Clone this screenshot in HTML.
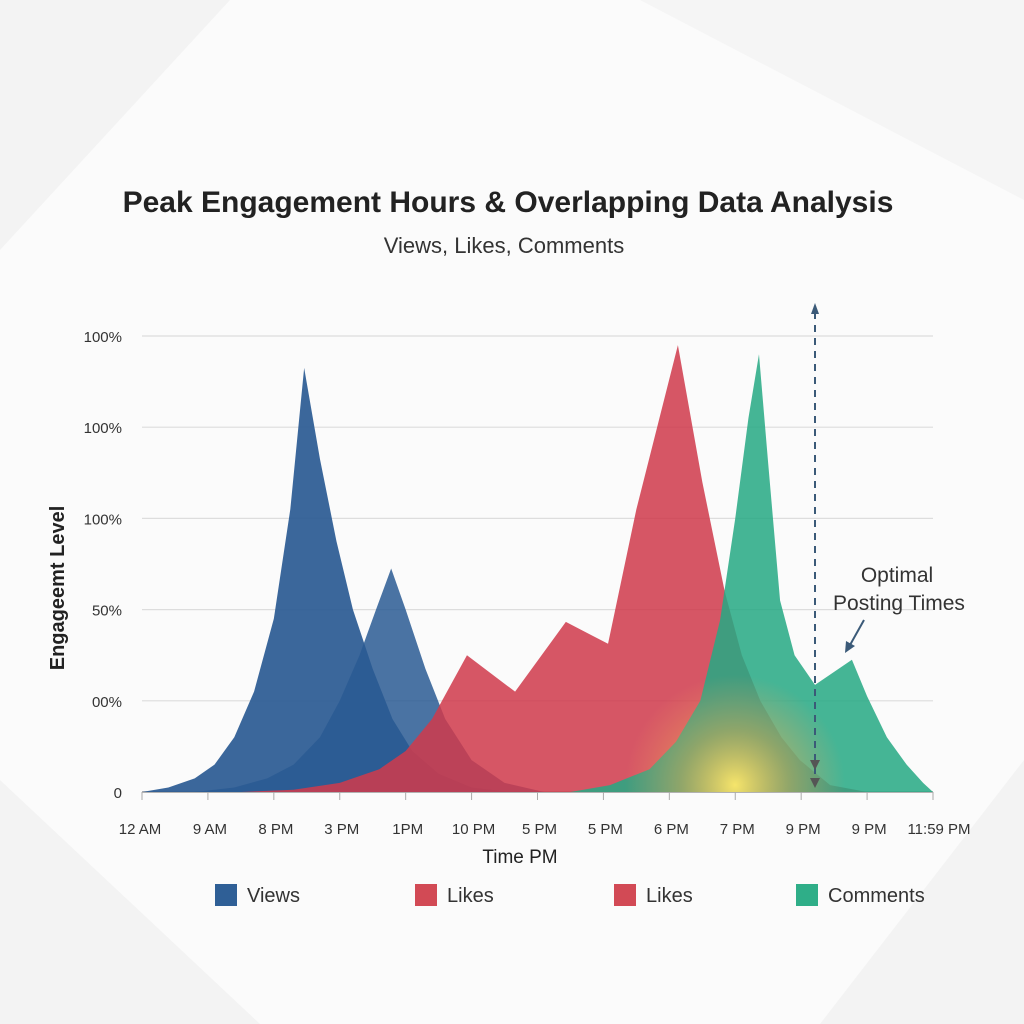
<!DOCTYPE html>
<html><head><meta charset="utf-8">
<style>
html,body{margin:0;padding:0;width:1024px;height:1024px;overflow:hidden;background:#fafafa;font-family:"Liberation Sans",sans-serif}
</style></head>
<body>
<svg id="chart" width="1024" height="1024" viewBox="0 0 1024 1024" xmlns="http://www.w3.org/2000/svg">
<defs>
<radialGradient id="glow" cx="735" cy="785" r="110" gradientUnits="userSpaceOnUse">
<stop offset="0" stop-color="#ffe96a" stop-opacity="0.95"/>
<stop offset="0.5" stop-color="#f0b050" stop-opacity="0.45"/>
<stop offset="1" stop-color="#f0a060" stop-opacity="0"/>
</radialGradient>
</defs>
<g>
<rect width="1024" height="1024" fill="#fbfbfb"/>
<polygon points="0,0 230,0 0,250" fill="#f3f3f3"/>
<polygon points="640,0 1024,0 1024,200" fill="#f5f5f5"/>
<polygon points="0,780 0,1024 260,1024" fill="#f3f3f3"/>
<polygon points="1024,760 1024,1024 820,1024" fill="#f3f3f3"/>
</g>
<text x="508" y="212" text-anchor="middle" font-size="30" font-weight="bold" fill="#222">Peak Engagement Hours &amp; Overlapping Data Analysis</text>
<text x="504" y="253" text-anchor="middle" font-size="22" fill="#333">Views, Likes, Comments</text>
<g id="grid"></g>
<g id="series"></g>
<g id="axes"></g>
<text transform="translate(64,588) rotate(-90)" text-anchor="middle" font-size="20" font-weight="bold" fill="#222">Engageemt Level</text>
<text x="520" y="863" text-anchor="middle" font-size="19" fill="#222">Time PM</text>
<g>
<line x1="815" y1="312" x2="815" y2="780" stroke="#3b5a78" stroke-width="2" stroke-dasharray="7,6"/>
<polygon points="811,314 819,314 815,303" fill="#3b5a78"/>
<polygon points="810,760 820,760 815,770" fill="#555"/>
<polygon points="810,778 820,778 815,788" fill="#555"/>
<text x="897" y="582" text-anchor="middle" font-size="21" fill="#333">Optimal</text>
<text x="899" y="610" text-anchor="middle" font-size="21" fill="#333">Posting Times</text>
<line x1="864" y1="620" x2="850" y2="645" stroke="#3b5a78" stroke-width="2"/>
<polygon points="845,653 846,641 855,646" fill="#3b5a78"/>
</g>
<g font-size="20" fill="#333">
<g><rect x="215" y="884" width="22" height="22" fill="#2f5f96"/><text x="247" y="902">Views</text></g>
<g><rect x="415" y="884" width="22" height="22" fill="#d24a55"/><text x="447" y="902">Likes</text></g>
<g><rect x="614" y="884" width="22" height="22" fill="#d24a55"/><text x="646" y="902">Likes</text></g>
<g><rect x="796" y="884" width="22" height="22" fill="#2fae88"/><text x="828" y="902">Comments</text></g>
</g>
</svg>
<script>
const xLabels=["12 AM","9 AM","8 PM","3 PM","1PM","10 PM","5 PM","5 PM","6 PM","7 PM","9 PM","9 PM","11:59 PM"];
const yTicks=[0,20,40,60,80,100];
const yLabels=["0","00%","50%","100%","100%","100%"];
const viewsX=[0,0.4,0.8,1.1,1.4,1.7,2.0,2.25,2.46,2.7,2.95,3.2,3.5,3.8,4.1,4.5,5,5.6];
const viewsY=[0,1,3,6,12,22,38,62,93,73,55,40,27,16,9,4,1,0];
const views2X=[0.8,1.4,1.9,2.3,2.7,3.0,3.3,3.55,3.78,4.0,4.3,4.6,5.0,5.5,6.1];
const views2Y=[0,1,3,6,12,20,30,40,49,40,27,16,7,2,0];
const likesX=[1.5,2.3,3.0,3.6,4.0,4.4,4.93,5.66,6.43,7.07,7.5,8.13,8.5,8.84,9.1,9.38,9.7,9.98,10.44,11];
const likesY=[0,0.5,2,5,9,16,30,22,37.3,32.5,62,98,68,44,30,20,12,7,1.5,0];
const commentsX=[6.5,7.1,7.7,8.1,8.47,8.77,9.0,9.2,9.36,9.5,9.68,9.9,10.21,10.77,11.0,11.3,11.6,11.85,12];
const commentsY=[0,1.5,5,11,20,37.7,60,82,96,72,42,30,23.5,29,21,12,6,2,0];
const NS="http://www.w3.org/2000/svg";
const X0=142,X1=933,Y0=792,Y1=336;
function sx(i){return X0+i*(X1-X0)/12;}
function sy(v){return Y0-v*(Y0-Y1)/100;}
const grid=document.getElementById('grid'),axes=document.getElementById('axes'),ser=document.getElementById('series');
yTicks.forEach((t,i)=>{
 const l=document.createElementNS(NS,'line');
 
 
 l.setAttribute('x1',X0);l.setAttribute('x2',X1);l.setAttribute('y1',sy(t));l.setAttribute('y2',sy(t));
 l.setAttribute('stroke',i==0?'#999':'#ddd');l.setAttribute('stroke-width',i==0?1.5:1.2);
 grid.appendChild(l);
 const tx=document.createElementNS(NS,'text');
 
 
 tx.setAttribute('x',122);tx.setAttribute('y',sy(t)+6);tx.setAttribute('text-anchor','end');
 tx.setAttribute('font-size','15');tx.setAttribute('fill','#333');tx.textContent=yLabels[i];
 axes.appendChild(tx);
});
xLabels.forEach((lab,i)=>{
 const l=document.createElementNS(NS,'line');
 
 
 l.setAttribute('x1',sx(i));l.setAttribute('x2',sx(i));l.setAttribute('y1',Y0);l.setAttribute('y2',Y0+8);
 l.setAttribute('stroke','#aaa');axes.appendChild(l);
 const tx=document.createElementNS(NS,'text');
 
 
 tx.setAttribute('x',sx(i)+(i==0?-2:i==12?6:2));tx.setAttribute('y',834);tx.setAttribute('text-anchor','middle');
 tx.setAttribute('font-size','15');tx.setAttribute('fill','#333');tx.textContent=lab;
 axes.appendChild(tx);
});
function area(xs,ys,color,op,name){
 let d='M'+sx(xs[0])+','+Y0;
 xs.forEach((x,i)=>{d+=' L'+sx(x)+','+sy(ys[i]);});
 d+=' L'+sx(xs[xs.length-1])+','+Y0+' Z';
 const p=document.createElementNS(NS,'path');
 
 
 p.setAttribute('d',d);p.setAttribute('fill',color);p.setAttribute('fill-opacity',op);
 p.setAttribute('stroke-linejoin','round');
 ser.appendChild(p);
}
area(viewsX,viewsY,'#2a5a93',0.92,'views-area');
area(views2X,views2Y,'#2a5a93',0.85,'views-secondary-area');
area(likesX,likesY,'#cf3a4c',0.86,'likes-area');
area(commentsX,commentsY,'#26a983',0.86,'comments-area');
const g=document.createElementNS(NS,'rect');


g.setAttribute('x',620);g.setAttribute('y',670);g.setAttribute('width',230);g.setAttribute('height',122);g.setAttribute('fill','url(#glow)');
ser.appendChild(g);
</script>
</body></html>
